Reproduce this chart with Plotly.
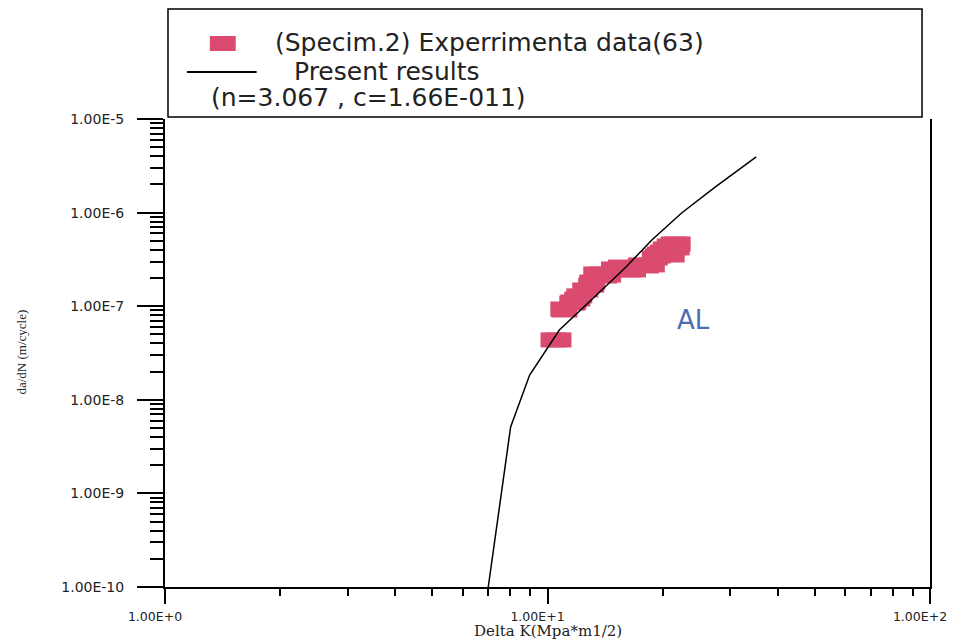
import plotly.graph_objects as go

# ---------------- data ----------------
delta_k = [10.37, 10.68, 11.00, 11.07, 11.61, 11.68, 11.96, 12.11, 12.55, 13.01,
           13.09, 13.41, 13.90, 14.06, 14.40, 14.93, 15.57, 16.14, 16.23, 16.73,
           17.55, 18.08, 18.74, 19.08, 19.42, 19.66, 20.01, 20.38, 20.62, 20.87,
           21.12, 21.37, 21.76, 21.89]
dadn = [4.36e-8, 4.36e-8, 9.34e-8, 9.11e-8, 1.08e-7, 1.11e-7, 1.19e-7, 1.29e-7, 1.49e-7, 1.68e-7,
        1.81e-7, 2.21e-7, 2.21e-7, 2.10e-7, 2.15e-7, 2.50e-7, 2.62e-7, 2.56e-7, 2.44e-7, 2.44e-7,
        2.76e-7, 2.69e-7, 2.76e-7, 3.27e-7, 3.44e-7, 3.61e-7, 3.79e-7, 4.09e-7, 3.99e-7, 4.40e-7,
        3.52e-7, 4.62e-7, 4.19e-7, 4.62e-7]

curve_k = [7.0, 8.01, 8.98, 10.74, 12.85, 16.04, 18.74, 22.42, 27.48, 35.13]
curve_dadn = [1.0e-10, 5.12e-9, 1.84e-8, 5.57e-8, 1.11e-7, 2.62e-7, 5.10e-7, 9.90e-7, 1.88e-6, 3.93e-6]

x_tick_vals = [1, 10, 100]
x_tick_text = ["1.00E+0", "1.00E+1", "1.00E+2"]
x_minor_vals = [2, 3, 4, 5, 6, 7, 8, 9, 20, 30, 40, 50, 60, 70, 80, 90]
y_tick_vals = [1e-10, 1e-9, 1e-8, 1e-7, 1e-6, 1e-5]
y_tick_text = ["1.00E-10", "1.00E-9", "1.00E-8", "1.00E-7", "1.00E-6", "1.00E-5"]
y_minor_vals = [m * 10.0 ** e for e in range(-10, -5) for m in range(2, 10)]

legend_data_text = "(Specim.2) Experrimenta data(63)"
legend_line_text = "Present results"
legend_param_text = "(n=3.067 , c=1.66E-011)"
x_title = "Delta K(Mpa*m1/2)"
y_title = "da/dN (m/cycle)"
material_text = "AL"

# ---------------- layout constants ----------------
# the page body has an 8 px margin; the figure is sized to fit inside it and
# every reference (page) pixel position is shifted by 8 px
OFF = 8
W, H = 967 - 2 * OFF, 639 - OFF
PLOT_X0, PLOT_X1 = 165 - OFF, 933 - OFF   # reference plot edges, page pixels
PLOT_Y0, PLOT_Y1 = 119 - OFF, 587 - OFF
L, R, T, B = PLOT_X0, W - PLOT_X1, PLOT_Y0, H - PLOT_Y1
RED = "#DA4B6F"
INK = "#222222"


def px(xp):
    return (xp - OFF - L) / (W - L - R)


def py(yp):
    return (H - B - (yp - OFF)) / (H - T - B)


fig = go.Figure()

fig.add_trace(go.Scatter(
    x=delta_k, y=dadn, mode="markers",
    marker=dict(symbol="line-ew", size=18.6, color=RED,
                line=dict(color=RED, width=15)),
    showlegend=False, hoverinfo="skip"))

fig.add_trace(go.Scatter(
    x=curve_k, y=curve_dadn, mode="lines",
    line=dict(color="black", width=1.5),
    showlegend=False, hoverinfo="skip"))

fig.update_xaxes(
    type="log", range=[0, 2],
    showline=True, linecolor="black", linewidth=2,
    showgrid=False, zeroline=False,
    tickmode="array", tickvals=x_tick_vals, ticktext=x_tick_text,
    ticks="outside", ticklen=15, tickwidth=2, tickcolor="black",
    ticklabelstandoff=2, ticklabelshift=-10,
    tickfont=dict(family="DejaVu Sans", size=12.5, color=INK),
    minor=dict(tickmode="array", tickvals=x_minor_vals, ticks="outside",
               ticklen=7, tickwidth=2, tickcolor="black", showgrid=False),
)
fig.update_yaxes(
    type="log", range=[-10, -5],
    showline=True, linecolor="black", linewidth=2, mirror=True,
    showgrid=False, zeroline=False,
    tickmode="array", tickvals=y_tick_vals, ticktext=y_tick_text,
    ticks="outside", ticklen=26, tickwidth=2, tickcolor="black",
    ticklabelstandoff=10,
    tickfont=dict(family="DejaVu Sans", size=14, color=INK),
    minor=dict(tickmode="array", tickvals=y_minor_vals, ticks="outside",
               ticklen=13, tickwidth=2, tickcolor="black", showgrid=False),
)

shapes = [
    # legend frame
    dict(type="rect", xref="paper", yref="paper",
         x0=px(168), x1=px(925), y0=py(117), y1=py(9),
         line=dict(color="black", width=1.5), fillcolor="rgba(0,0,0,0)"),
    # legend marker sample
    dict(type="rect", xref="paper", yref="paper",
         x0=px(210), x1=px(236), y0=py(51), y1=py(36),
         line=dict(width=0), fillcolor=RED),
    # legend line sample
    dict(type="line", xref="paper", yref="paper",
         x0=px(187), x1=px(257), y0=py(72), y1=py(72),
         line=dict(color="black", width=2)),
]

annotations = [
    dict(text=legend_data_text, x=px(273), y=py(43), xref="paper", yref="paper",
         xanchor="left", yanchor="middle", showarrow=False,
         font=dict(family="DejaVu Sans", size=25, color=INK)),
    dict(text=legend_line_text, x=px(292), y=py(72), xref="paper", yref="paper",
         xanchor="left", yanchor="middle", showarrow=False,
         font=dict(family="DejaVu Sans", size=25, color=INK)),
    dict(text=legend_param_text, x=px(209), y=py(98), xref="paper", yref="paper",
         xanchor="left", yanchor="middle", showarrow=False,
         font=dict(family="DejaVu Sans", size=25, color=INK)),
    dict(text=x_title, x=px(549), y=py(631), xref="paper", yref="paper",
         xanchor="center", yanchor="middle", showarrow=False,
         font=dict(family="DejaVu Serif", size=15, color=INK)),
    dict(text=y_title, x=px(20), y=py(352), xref="paper", yref="paper",
         xanchor="center", yanchor="middle", showarrow=False, textangle=-90,
         font=dict(family="Liberation Serif", size=13, color=INK)),
    dict(text=material_text, x=px(696), y=py(320), xref="paper", yref="paper",
         xanchor="center", yanchor="middle", showarrow=False,
         font=dict(family="DejaVu Sans", size=26, color="#4E6DB0")),
]

fig.update_layout(
    width=W, height=H,
    margin=dict(l=L, r=R, t=T, b=B, pad=0),
    paper_bgcolor="white", plot_bgcolor="white",
    showlegend=False,
    shapes=shapes, annotations=annotations,
)

fig.write_html("out.html")
